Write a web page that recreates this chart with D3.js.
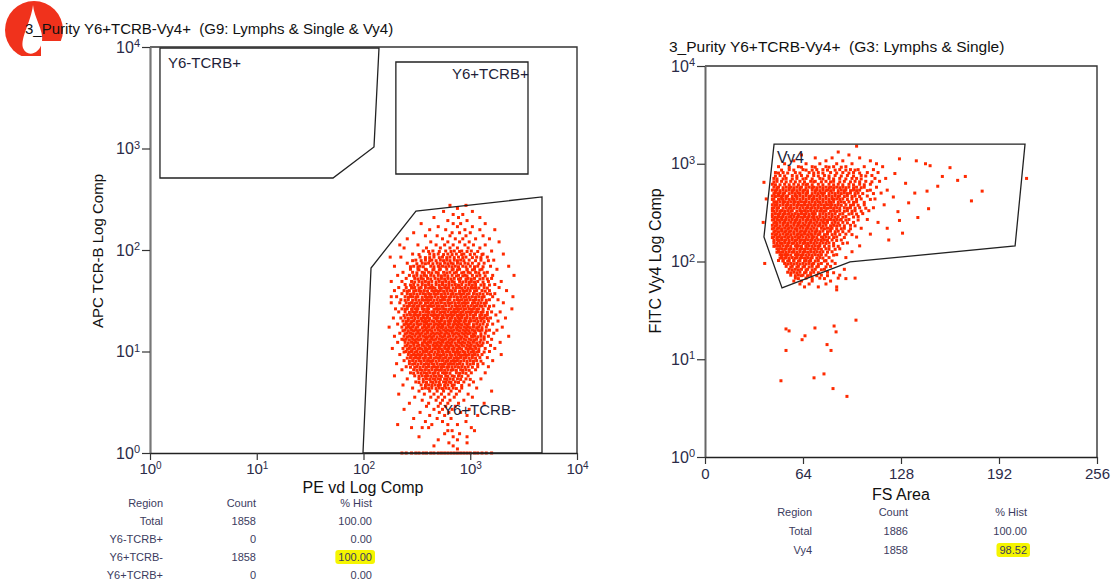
<!DOCTYPE html>
<html>
<head>
<meta charset="utf-8">
<script src="https://cdn.jsdelivr.net/npm/d3@7"></script>
<style>
body { margin: 0; background: #fff; }
svg { font-family: Arial, "Liberation Sans", sans-serif; }
</style>
</head>
<body>
<svg id="chart" width="1113" height="587"></svg>
<script>
// tick values
const decades = [1, 10, 100, 1000, 10000];
const fsTicks = [0, 64, 128, 192, 256];

// left plot events, rows of "log10(APC)*100 : log10(PE)*100 ..."
const tcrTop = [
  "244:281 296", "241:288", "238:275 302", "235:284 293", "232:266 289 309", "229:279 297",
  "226:254 284 291 314", "223:270 288 302", "220:262 277 295 309 323", "217:247 283 290 300",
  "214:258 269 281 296 312", "211:241 274 286 293 305 318", "208:263 279 290 299 327",
  "205:234 251 268 276 284 295 303 314", "202:238 259 272 281 288 298 309", "199:256 265 277 285 292 301 320"
];
const tcrUpper = [
  "196:246 262 270 279 287 294 304 312 331",
  "193:225 235 253 266 274 281 289 296 306 316",
  "190:249 258 264 272 278 285 291 299 310 322",
  "187:241 255 261 269 276 282 288 295 302 313",
  "184:229 247 253 263 270 274 280 286 293 300 307 319 336",
  "181:244 251 258 266 272 278 284 290 297 304 311 325",
  "178:237 246 255 261 268 275 281 287 294 298 305 316",
  "175:232 243 250 257 263 270 276 283 289 295 302 309 321 341",
  "172:240 248 254 260 267 273 279 285 291 298 304 312 320",
  "169:226 236 245 252 258 264 271 277 283 290 296 301 307 317 329",
  "166:239 247 255 261 268 274 280 286 292 299 305 313 323",
  "198.5:261 271 282 290 297 307",
  "195.5:252 266 275 283 292 300 311",
  "192.5:258 262 271 278 285 293 302 310",
  "189.5:246 254 262 268 275 281 288 294 305 317",
  "186.5:250 258 265 272 279 284 291 298 308",
  "183.5:244 251 256 266 271 277 283 289 296 304 312"
];
const tcrCore = [
  "163:233 240 245 248 254 258 263 265 271 276 280 287 290 295 301 305 313 327",
  "160:229 238 243 249 252 257 264 268 272 278 281 286 293 297 300 306 311 318 334",
  "157:236 241 247 253 256 261 266 270 276 279 284 290 294 299 303 309 316 323",
  "154:226 231 239 244 246 251 258 262 267 273 277 282 285 291 296 302 308 313 321 340",
  "151:235 242 249 255 259 263 269 274 276 281 288 292 297 300 305 311 318 326",
  "148:226 234 240 245 250 254 260 265 270 273 279 283 289 294 298 304 310 315 331",
  "145:238 243 247 252 257 262 266 271 277 280 286 290 295 301 306 309 314 322",
  "142:230 236 241 248 251 255 261 268 272 275 282 287 291 296 299 303 308 317 339",
  "139:233 239 246 250 256 259 264 269 274 279 284 288 293 298 302 307 312 320 328",
  "136:241 244 249 253 258 263 267 271 277 281 285 290 294 300 305 311 316 324",
  "133:228 235 239 245 251 256 260 266 270 275 278 283 289 292 297 303 309 313 319 333",
  "130:237 242 247 252 255 261 264 269 273 279 282 287 291 296 301 304 310 317 326",
  "127:232 240 244 250 254 259 263 268 272 276 281 286 290 295 299 306 312 321",
  "124:224 236 242 246 251 257 261 266 271 274 280 284 289 294 298 303 308 315 330",
  "121:239 245 249 253 258 262 267 270 275 279 285 288 293 297 302 307 311 318 325",
  "118:234 241 244 251 255 260 265 269 273 278 283 287 292 296 300 305 314 322",
  "115:229 238 243 248 253 256 262 266 272 276 281 284 290 295 301 304 310 317 336",
  "112:236 240 246 250 254 259 264 268 271 277 282 286 291 294 299 306 313 320",
  "109:232 239 245 249 257 261 263 270 274 279 283 289 293 298 303 309 316 328",
  "106:241 247 252 255 260 265 269 273 278 282 287 292 297 301 307 311 319",
  "103:227 237 243 248 253 258 262 267 271 276 280 285 290 296 300 305 314 323",
  "100:240 245 250 256 259 264 270 274 279 284 288 293 298 303 308 318",
  "97:234 242 247 251 255 261 266 269 275 281 286 289 295 299 304 311 329",
  "94:244 249 253 258 263 268 272 277 282 287 291 296 302 309 316",
  "91:238 246 252 257 260 265 271 274 279 284 288 294 300 306 321",
  "88:231 243 248 254 259 264 269 276 281 285 290 297 303 312",
  "85:240 250 256 261 266 270 275 280 286 292 298 307 317"
];
const tcrDense = [
  "180.5:252 259 265 271 283 288 297 302 309", "177.5:250 257 264 270 278 285 292 300 308 313",
  "174.5:247 254 259 266 273 279 287 293 297 306 314", "171.5:251 256 263 270 276 282 289 296 301 309 316",
  "168.5:248 255 261 268 274 280 285 293 299 304 312", "165.5:244 251 258 264 271 277 283 289 296 302 310 318",
  "162.5:246 252 261 267 273 278 284 292 298 303 308 316", "159.5:241 247 254 260 266 270 275 283 290 295 304 314",
  "156.5:244 250 258 263 268 273 282 287 292 297 306 312 319", "153.5:242 249 255 260 264 270 275 280 288 294 299 305 311",
  "150.5:239 246 252 257 261 266 272 279 285 290 295 303 308 315", "147.5:243 248 253 258 263 268 276 281 286 292 296 302 307 313",
  "144.5:241 246 250 255 260 264 269 274 283 288 293 298 304 311 318", "141.5:239 245 250 257 260 266 270 277 280 285 289 294 301 306 312",
  "138.5:243 248 253 261 266 272 276 282 286 291 296 300 305 310 316", "135.5:238 247 251 256 260 265 269 274 279 283 288 292 297 303 309 314",
  "132.5:242 248 254 258 262 268 273 281 286 290 295 300 306 311 316", "129.5:240 245 250 257 259 266 271 276 280 285 289 294 299 307 313",
  "126.5:238 242 247 252 257 261 266 270 274 279 284 288 292 297 303 309 316", "123.5:240 244 249 255 259 264 269 273 277 282 287 291 296 300 306 311",
  "120.5:237 242 247 251 256 260 264 272 277 281 283 290 295 299 304 309 315", "117.5:239 246 249 253 258 263 267 271 276 280 285 289 294 298 303 310",
  "114.5:241 245 251 258 260 264 269 274 279 287 292 297 302 307 313", "111.5:238 243 248 252 257 262 266 273 275 280 284 289 296 301 304 310",
  "108.5:242 247 251 255 259 266 268 272 277 281 286 291 295 300 306 312", "105.5:239 244 250 257 262 267 271 276 280 284 289 294 299 304 309",
  "102.5:241 246 251 255 260 265 269 273 278 283 288 292 298 302 308", "99.5:238 243 248 253 257 262 267 271 277 281 286 290 295 301 306 313",
  "96.5:245 249 253 258 263 271 273 278 283 291 293 297 302 307", "93.5:241 247 251 256 261 266 270 275 280 285 289 294 299 305",
  "90.5:243 249 254 262 263 268 277 278 282 286 291 297 303 310", "87.5:246 251 257 261 266 272 274 279 283 288 293 300 307",
  "84.5:244 248 253 259 264 268 273 278 283 289 295 302", "81.5:250 255 261 267 271 276 282 287 293 299",
  "78.5:247 254 259 265 270 276 281 290 296", "75.5:252 258 263 268 273 279 285 292",
  "72.5:256 262 267 272 278 284 291 300", "69.5:252 259 265 271 277 282 289",
  "66.5:258 264 270 276 283 292", "63.5:255 261 268 274 280 287"
];
const tcrLower = [
  "82:236 247 253 258 264 269 273 279 284 291 296 305", "79:244 251 257 262 267 274 278 287 293 301 314",
  "76:229 248 255 260 266 271 277 283 289 298", "73:241 252 259 265 270 276 281 288 296 310",
  "70:249 256 263 268 275 280 286 294 303", "67:237 254 261 267 272 279 285 299",
  "64:246 258 264 271 277 284 292 306", "61:252 262 269 275 282 290 320", "58:233 257 266 273 280 287 298",
  "55:248 263 270 276 285 302", "52:255 268 274 281 294", "49:243 261 272 279 289 313", "46:259 270 277 286",
  "43:238 266 274 283 299", "40:253 271 280 291", "37:262 276 297 307", "34:247 269 282", "31:258 274 296",
  "28:232 264 279 288", "25:245 255 261 301", "22:279 283 304", "19:276 290", "16:252 284 297",
  "13:270 288", "10:280 297", "7:266 284", "4:288"
];
const tcrFloor = [
  "0:236 240 245 249 252 256 259 263 266 270 273 276 279 282 285 288 291 294 297 300 304 307 311 315 320"
];

// right plot events, rows of "log10(FITC)*100 : FS area ..."
const vy4Core = [
  "318:99", "312:87", "309:63 94", "306:72 83 101", "303:58 79 90 108", "300:52 66 75 86 96 112",
  "297:48 61 70 79 84 92 104 116", "294:55 64 73 77 88 95 100 110", "291:46 51 59 68 74 82 90 97 106 113",
  "288:49 57 63 71 78 85 93 102 109", "285:45 53 60 66 75 81 88 96 99 111 118",
  "282:47 50 56 62 69 72 79 84 91 98 105 114", "279:44 52 58 64 67 74 81 87 94 101 108",
  "276:45 48 53 56 60 63 68 71 75 79 82 86 90 94 99 104 112",
  "273:44 47 51 55 58 62 65 70 73 77 80 84 89 92 97 101 108 119",
  "270:46 49 52 57 61 64 67 72 76 78 83 87 91 95 100 115",
  "267:44 48 51 54 59 62 66 69 73 77 81 85 88 93 98 106",
  "264:45 50 53 57 60 64 68 71 75 79 83 86 90 96 102 111",
  "261:46 49 52 56 59 63 66 70 74 77 81 84 89 94 99",
  "258:44 47 51 54 58 61 65 69 72 76 80 83 87 92 97 104 117",
  "255:45 48 53 56 60 64 67 70 74 78 82 86 91 95 101 110",
  "252:44 47 50 54 57 62 65 69 73 76 79 84 88 93 98 107",
  "249:46 49 52 55 59 63 66 70 72 77 81 85 90 96 103",
  "246:44 48 51 56 58 61 65 68 71 75 79 83 87 92 100",
  "243:45 47 50 53 57 60 64 67 71 74 78 82 86 89 94 106",
  "240:46 49 52 56 59 62 66 69 73 77 80 85 90 97 113",
  "237:44 47 51 54 58 61 65 68 72 75 79 84 88 95",
  "234:45 48 52 55 57 62 64 67 71 76 80 83 91 102",
  "231:46 50 53 56 60 63 66 70 73 77 82 87 94",
  "228:44 47 51 54 58 61 65 69 72 75 80 85 92 108",
  "225:45 48 52 55 59 62 64 68 71 76 79 86 99",
  "222:47 50 53 57 60 63 67 70 74 78 83 89",
  "219:45 49 52 55 58 62 65 69 73 77 81 93",
  "216:46 48 51 54 59 61 66 68 72 75 84 101",
  "213:47 50 53 56 60 63 67 71 74 79 88",
  "210:48 51 55 58 62 65 69 73 77 83 96",
  "207:49 52 54 59 61 64 68 72 76 86",
  "204:50 53 57 60 63 67 70 75 81 92",
  "201:48 51 55 58 62 66 69 74 79",
  "198:52 56 60 64 68 71 76 85", "195:53 57 61 65 70 74 82", "192:55 59 63 67 72 78 91",
  "189:54 58 62 66 71 80", "186:56 61 64 69 76 88", "183:59 66 75 87 98", "180:58 63 70 82",
  "177:62 68 79", "174:65 74 86", "171:86"
];
const vy4Dense = [
  "296.5:55 63 72 81 89", "293.5:50 58 66 70 80 85 92 98", "290.5:48 54 62 71 77 86 94 101",
  "287.5:46 52 60 67 74 81 89 97 105", "284.5:47 51 57 64 70 77 84 92 102",
  "281.5:45 53 59 65 71 76 82 88 95 101 109", "278.5:46 49 55 61 66 70 77 84 90 97 104",
  "275.5:47 51 55 58 62 66 70 73 77 81 84 88 92 97 102", "272.5:46 49 53 57 60 64 67 72 75 79 82 87 91 95 99 106",
  "269.5:45 48 51 55 59 62 66 70 74 77 81 85 89 93 98 103 110", "266.5:46 50 53 57 60 64 68 71 75 79 83 87 91 96 101",
  "263.5:44 48 51 55 58 62 66 70 73 77 81 84 88 93 99 108", "260.5:45 47 51 54 58 61 65 68 72 75 79 82 87 91 97 104",
  "257.5:46 49 53 56 60 63 67 71 74 78 82 85 89 95 100", "254.5:44 47 51 55 58 62 66 69 72 76 80 84 88 93 98 105",
  "251.5:45 49 52 56 60 63 67 71 75 78 82 86 91 96 102", "248.5:44 48 51 54 57 61 65 68 71 75 79 83 88 94 99",
  "245.5:46 50 53 55 60 63 67 70 73 77 81 85 90 97", "242.5:44 48 52 55 59 62 66 69 72 76 80 84 88 92 100",
  "239.5:45 47 51 54 58 61 64 68 71 75 78 83 87 93", "236.5:46 49 53 56 60 63 67 70 74 77 82 86 91 98",
  "233.5:44 47 50 54 59 60 66 69 73 78 82 86 89 95", "230.5:45 48 52 55 58 62 65 68 72 75 80 85 90",
  "227.5:46 49 53 56 60 63 67 70 74 78 83 88 96", "224.5:44 47 50 54 57 61 66 70 73 77 81 84 91",
  "221.5:45 48 52 55 59 62 65 69 72 76 80 86", "218.5:47 50 54 57 60 64 67 71 75 79 84 90",
  "215.5:45 49 53 56 60 63 66 70 74 78 81 87", "212.5:48 52 55 58 62 65 69 72 76 81 85",
  "209.5:47 50 53 57 60 64 67 71 75 80", "206.5:50 53 56 60 63 66 70 74 79 84",
  "203.5:49 52 55 59 62 65 69 73 77", "200.5:51 54 58 61 65 68 72 78 83",
  "197.5:54 58 62 66 70 74 80", "194.5:56 60 64 68 73 79", "191.5:57 61 66 70 76",
  "188.5:56 60 65 69 74 84", "185.5:59 63 67 73 80", "182.5:61 70 78 92"
];
// scattered events [FS area, log10(FITC)*100]
const vy4Tail = [
  [127, 305], [138, 303], [144, 300], [147, 298], [160, 296], [155, 287], [170, 287], [165, 283],
  [152, 277], [145, 272], [181, 272], [174, 262], [137, 270], [139, 245], [146, 254], [133, 260],
  [127, 242], [129, 229], [119, 234], [120, 222], [210, 285], [38.5, 281], [38, 240], [39, 198],
  [40, 264], [124, 290], [131, 280], [123, 266], [126, 251]
];
const vy4Low = [
  [52.9, 131], [54.9, 129], [71.8, 132], [84.3, 134], [98.6, 140], [85.6, 128], [65.3, 124], [63.4, 120],
  [79.7, 115], [52.9, 109], [82.3, 109], [77.7, 85], [49.6, 78], [71.2, 81], [83.6, 70], [92.7, 62]
];

// gates
const gateY6negTCRpos = [[1.24, 9780], [139.7, 9780], [125.4, 1035], [51.8, 512], [1.24, 512]];
const gateY6posTCRpos = [[201, 7114], [3475, 7114], [3475, 561], [201, 561]];
const gateY6posTCRneg = [[98.9, 1], [117.6, 66.5], [310, 242], [4700, 333], [4700, 1]];
const gateVy4 = [[45.1, 1590], [209, 1590], [202.5, 144], [94.7, 99], [50.3, 53.6], [38.5, 178]];

// statistics tables
const tcrTable = [
  ['Region', 'Count', '% Hist'], ['Total', '1858', '100.00'], ['Y6-TCRB+', '0', '0.00'],
  ['Y6+TCRB-', '1858', '100.00'], ['Y6+TCRB+', '0', '0.00']
];
const vy4Table = [['Region', 'Count', '% Hist'], ['Total', '1886', '100.00'], ['Vy4', '1858', '98.52']];

const titleLeft = '3_Purity Y6+TCRB-Vy4+  (G9: Lymphs & Single & Vy4)';
const titleRight = '3_Purity Y6+TCRB-Vy4+  (G3: Lymphs & Single)';

function parseRows(rows) {
  return rows.flatMap(r => {
    const [y, xs] = r.split(':');
    return xs.trim().split(/\s+/).map(x => [+x, +y]);
  });
}

const svg = d3.select('#chart');
const dotColor = '#ff2a00';
const inkColor = '#1e1e38';

// logo
svg.append('circle').attr('cx', 34).attr('cy', 30).attr('r', 29).attr('fill', '#f0321c');
svg.append('path').attr('d', 'M33,5 C34,18 44,30 42,42 C40,54 27,58 23,48 C20,38 31,22 33,5 Z').attr('fill', '#fff');
svg.append('rect').attr('x', 41).attr('y', 41).attr('width', 30).attr('height', 22).attr('fill', '#fff');
svg.append('rect').attr('x', 0).attr('y', 56).attr('width', 70).attr('height', 8).attr('fill', '#fff');

svg.append('text').attr('x', 25).attr('y', 34).attr('font-size', 15).style('white-space', 'pre').attr('fill', '#111').text(titleLeft);
svg.append('text').attr('x', 669).attr('y', 52).attr('font-size', 15.5).style('white-space', 'pre').attr('fill', '#111').text(titleRight);

// scales
const xL = d3.scaleLog().domain([1, 1e4]).range([150, 577]);
const yL = d3.scaleLog().domain([1, 1e4]).range([453, 47]);
const xR = d3.scaleLinear().domain([0, 256]).range([705, 1097]);
const yR = d3.scaleLog().domain([1, 1e4]).range([457, 66]);

// events
const tcrPoints = parseRows([...tcrTop, ...tcrUpper, ...tcrCore, ...tcrDense, ...tcrLower, ...tcrFloor])
  .map(([ex, ey]) => [10 ** (ex / 100), 10 ** (ey / 100)]);
const vy4Points = [...parseRows(vy4Core), ...parseRows(vy4Dense), ...vy4Tail, ...vy4Low]
  .map(([v, ey]) => [v, 10 ** (ey / 100)]);

const s = 3;
svg.append('g').attr('fill', dotColor).selectAll('rect').data(tcrPoints).join('rect')
  .attr('x', d => xL(d[0]) - s / 2).attr('y', d => yL(d[1]) - s / 2).attr('width', s).attr('height', s);
svg.append('g').attr('fill', dotColor).selectAll('rect').data(vy4Points).join('rect')
  .attr('x', d => xR(d[0]) - s / 2).attr('y', d => yR(d[1]) - s / 2).attr('width', s).attr('height', s);

// gates
function drawGate(pts, x, y) {
  const line = d3.line().x(d => x(d[0])).y(d => y(d[1]));
  svg.append('path').attr('d', line(pts) + 'Z').attr('fill', 'none').attr('stroke', '#222').attr('stroke-width', 1.3);
}
drawGate(gateY6negTCRpos, xL, yL);
drawGate(gateY6posTCRpos, xL, yL);
drawGate(gateY6posTCRneg, xL, yL);
drawGate(gateVy4, xR, yR);

svg.append('text').attr('x', 168).attr('y', 68).attr('font-size', 15).attr('fill', inkColor).text('Y6-TCRB+');
svg.append('text').attr('x', 452).attr('y', 79).attr('font-size', 15).attr('fill', inkColor).text('Y6+TCRB+');
svg.append('text').attr('x', 443).attr('y', 415).attr('font-size', 15).attr('fill', inkColor).text('Y6+TCRB-');
svg.append('text').attr('x', 777).attr('y', 163).attr('font-size', 16).attr('fill', inkColor).text('Vy4');

// axes
function decadeLabels(g, size) {
  g.selectAll('.tick text').attr('font-size', size).attr('fill', '#2b2b48')
    .text('10').append('tspan').attr('dy', '-0.5em').attr('font-size', Math.round(size * 0.66))
    .text(d => Math.round(Math.log10(d)));
}
function styleAxis(g, domainColor, domainWidth) {
  g.attr('font-family', null).attr('color', '#333');
  g.select('.domain').attr('stroke', domainColor).attr('stroke-width', domainWidth);
  g.selectAll('.tick line').attr('stroke-width', 1.2);
}
function drawFrame(x, y) {
  const [x0, x1] = x.range();
  const [y0, y1] = y.range();
  svg.append('path').attr('d', `M${x0},${y1}H${x1}V${y0}`).attr('fill', 'none').attr('stroke', '#333').attr('stroke-width', 1.4);
}

drawFrame(xL, yL);
const gyL = svg.append('g').attr('transform', `translate(${xL.range()[0]},0)`)
  .call(d3.axisLeft(yL).tickValues(decades).tickSize(8).tickSizeOuter(0).tickPadding(2));
styleAxis(gyL, '#777', 2.2);
decadeLabels(gyL, 16);
const gxL = svg.append('g').attr('transform', `translate(0,${yL.range()[0]})`)
  .call(d3.axisBottom(xL).tickValues(decades).tickSize(7).tickSizeOuter(0).tickPadding(3));
styleAxis(gxL, '#222', 1.5);
decadeLabels(gxL, 15);

drawFrame(xR, yR);
const gyR = svg.append('g').attr('transform', `translate(${xR.range()[0]},0)`)
  .call(d3.axisLeft(yR).tickValues(decades).tickSize(8).tickSizeOuter(0).tickPadding(2));
styleAxis(gyR, '#666', 2);
decadeLabels(gyR, 16);
const gxR = svg.append('g').attr('transform', `translate(0,${yR.range()[0]})`)
  .call(d3.axisBottom(xR).tickValues(fsTicks).tickSize(7).tickSizeOuter(0).tickPadding(4));
styleAxis(gxR, '#222', 1.5);
gxR.selectAll('.tick text').attr('font-size', 15).attr('fill', '#2b2b48');

// axis titles
svg.append('text').attr('transform', 'translate(103,251) rotate(-90)').attr('text-anchor', 'middle').attr('font-size', 15).attr('fill', '#111').text('APC TCR-B Log Comp');
svg.append('text').attr('x', 363).attr('y', 493).attr('text-anchor', 'middle').attr('font-size', 16).attr('fill', '#111').text('PE vd Log Comp');
svg.append('text').attr('transform', 'translate(661,261) rotate(-90)').attr('text-anchor', 'middle').attr('font-size', 16).attr('fill', '#111').text('FITC Vy4 Log Comp');
svg.append('text').attr('x', 901).attr('y', 500).attr('text-anchor', 'middle').attr('font-size', 16).attr('fill', '#111').text('FS Area');

// stats tables
function drawTable(rows, colRight, top, step, hl) {
  const g = svg.append('g').attr('font-size', 11).attr('fill', '#3b3b5e');
  g.append('rect').attr('x', colRight[0] - 80).attr('y', top - 11).attr('width', colRight[2] - colRight[0] + 100).attr('height', 587 - top + 11).attr('fill', '#fff');
  rows.forEach((row, i) => {
    row.forEach((cell, j) => {
      const t = g.append('text').attr('x', colRight[j]).attr('y', top + i * step).attr('text-anchor', 'end').text(cell);
      if (i === hl[0] && j === hl[1]) {
        const b = t.node().getBBox();
        g.insert('rect', 'text:last-child').attr('x', b.x - 3).attr('y', b.y - 1).attr('width', b.width + 6).attr('height', b.height + 2)
          .attr('rx', 3).attr('fill', '#f5f500');
      }
    });
  });
}
drawTable(tcrTable, [163, 256, 372], 507, 18, [3, 2]);
drawTable(vy4Table, [812, 908, 1027], 516, 19, [2, 2]);
</script>
</body>
</html>
